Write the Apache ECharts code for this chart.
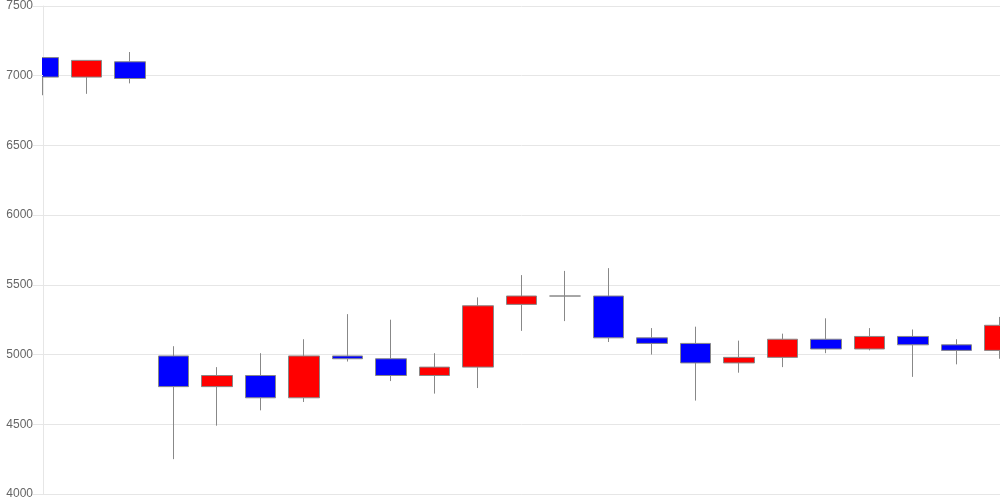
<!DOCTYPE html>
<html>
<head>
<meta charset="utf-8">
<script src="https://cdn.jsdelivr.net/npm/echarts@6/dist/echarts.min.js"></script>
<style>html,body{margin:0;padding:0;background:#fff}#c{width:1000px;height:500px}</style>
</head>
<body>
<div id="c"></div>
<script>
const categories = ['1','2','3','4','5','6','7','8','9','10','11','12','13','14','15','16','17','18','19','20','21','22','23'];
const openVals  = [7130, 6990, 7100, 4990, 4770, 4850, 4690, 4990, 4970, 4850, 4910, 5360, 5420, 5420, 5120, 5080, 4940, 4980, 5110, 5040, 5130, 5070, 5030];
const closeVals = [6990, 7110, 6980, 4770, 4850, 4690, 4990, 4970, 4850, 4910, 5350, 5420, 5420, 5120, 5080, 4940, 4980, 5110, 5040, 5130, 5070, 5030, 5210];
const lowVals   = [6860, 6870, 6945, 4250, 4490, 4600, 4660, 4950, 4810, 4720, 4760, 5170, 5240, 5090, 5000, 4670, 4870, 4910, 5010, 5030, 4840, 4930, 4970];
const highVals  = [7130, 7110, 7170, 5060, 4910, 5010, 5110, 5290, 5250, 5010, 5410, 5570, 5600, 5620, 5190, 5200, 5100, 5150, 5260, 5190, 5180, 5110, 5270];
const yTicks = [4000, 4500, 5000, 5500, 6000, 6500, 7000, 7500];

const data = categories.map((c, i) => [openVals[i], closeVals[i], lowVals[i], highVals[i]]);
const yMin = yTicks[0], yMax = yTicks[yTicks.length - 1];

const chart = echarts.init(document.getElementById('c'));
chart.setOption({
  animation: false,
  grid: { left: 43, right: 0, top: 6, bottom: 6 },
  xAxis: {
    type: 'category',
    data: categories,
    boundaryGap: false,
    axisLine: { show: true, lineStyle: { color: '#e6e6e6' } },
    axisTick: { show: false },
    axisLabel: { show: false },
    splitLine: { show: false }
  },
  yAxis: [{
    type: 'value',
    min: yMin, max: yMax, interval: 500,
    z: 0,
    axisLine: { show: true, lineStyle: { color: '#e6e6e6' } },
    axisTick: { show: false },
    axisLabel: { show: false },
    splitLine: { show: true, lineStyle: { color: '#e6e6e6' } }
  }, {
    type: 'value',
    position: 'left',
    min: yMin, max: yMax, interval: 500,
    z: 10,
    axisLine: { show: false },
    axisTick: { show: true, length: 10, lineStyle: { color: '#e6e6e6' } },
    axisLabel: { color: '#666', fontSize: 12, fontFamily: 'Liberation Sans, Arial, sans-serif', margin: 10,
                 formatter: v => String(v) },
    splitLine: { show: false }
  }],
  graphic: [{
    type: 'rect',
    z: 5,
    shape: { x: 0, y: 0, width: 42, height: 500 },
    style: { fill: '#ffffff' },
    silent: true
  }],
  series: [{
    type: 'candlestick',
    data: data,
    barWidth: 31,
    z: 2,
    itemStyle: {
      color: '#ff0000',
      color0: '#0000ff',
      borderColor: '#888888',
      borderColor0: '#888888',
      borderWidth: 1
    }
  }]
});
</script>
</body>
</html>
